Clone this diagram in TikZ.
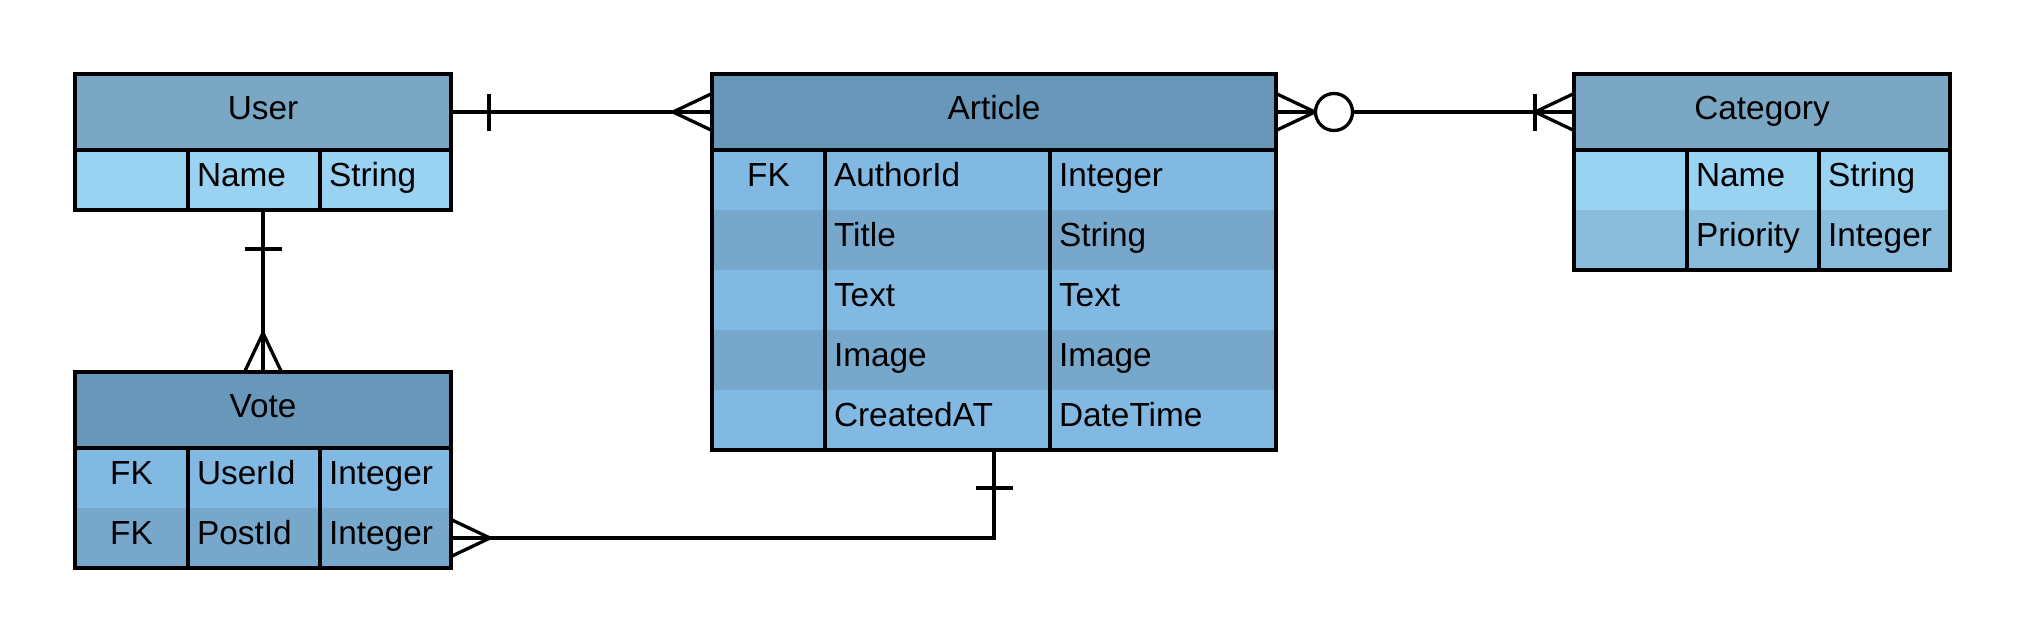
\documentclass[tikz,border=0pt]{standalone}
\usepackage{fontspec}
\setmainfont{Liberation Sans}
\usepackage{xcolor}
\usetikzlibrary{positioning}

\definecolor{hdrlight}{HTML}{7AA8C4}
\definecolor{hdrdark}{HTML}{6997B9}
\definecolor{rowsky}{HTML}{9AD2F2}
\definecolor{rowmid}{HTML}{8ABCDC}
\definecolor{rowA}{HTML}{82B9E3}
\definecolor{rowB}{HTML}{77A8CC}

\begin{document}
\begin{tikzpicture}[
    x=0.1mm, y=-0.1mm,
    every node/.style={inner sep=0pt, outer sep=0pt, font=\fontsize{9.5}{11}\selectfont},
    hdr/.style={minimum width=#1, minimum height=7.6mm, text height=2.4mm,
                text depth=1.0mm, anchor=north west},
    cellbox/.style={minimum height=6mm, text height=2.2mm, text depth=1.0mm},
    keycell/.style={cellbox, minimum width=11.3mm, anchor=north west},
    fld/.style={cellbox, text width=#1, inner xsep=0.9mm, align=left},
    tblframe/.style={draw, line width=0.4mm},
    rel/.style={draw, line width=0.33mm},
    node distance=0pt
  ]
    \useasboundingbox (0,0) rectangle (2025,643);

    % User
    \node[hdr=37.6mm, fill=hdrlight] (user) at (75,74) {User};
    \node[keycell, fill=rowsky] (user-k1) at (75,150) {};
    \node[fld=11.4mm, fill=rowsky, right=of user-k1] (user-n1) {Name};
    \node[fld=11.3mm, fill=rowsky, right=of user-n1] (user-t1) {String};
    \draw[tblframe] (user.north west) rectangle (user-t1.south east);
    \draw[tblframe] (user.south west) -- (user.south east)
        (user-n1.north west) -- (user-n1.south west)
        (user-t1.north west) -- (user-t1.south west);

    % Vote
    \node[hdr=37.6mm, fill=hdrdark] (vote) at (75,372) {Vote};
    \foreach \k/\n/\t/\c [count=\i] in {FK/UserId/Integer/rowA, FK/PostId/Integer/rowB} {
      \node[keycell, fill=\c] (vote-k\i) at (75,{388+60*\i}) {\k};
      \node[fld=11.4mm, fill=\c, right=of vote-k\i] (vote-n\i) {\n};
      \node[fld=11.3mm, fill=\c, right=of vote-n\i] (vote-t\i) {\t};
    }
    \draw[tblframe] (vote.north west) rectangle (vote-t2.south east);
    \draw[tblframe] (vote.south west) -- (vote.south east)
        (vote-n1.north west) -- (vote-n2.south west)
        (vote-t1.north west) -- (vote-t2.south west);

    % Article
    \node[hdr=56.4mm, fill=hdrdark] (article) at (712,74) {Article};
    \foreach \k/\n/\t/\c [count=\i] in {FK/AuthorId/Integer/rowA, {}/Title/String/rowB,
        {}/Text/Text/rowA, {}/Image/Image/rowB, {}/CreatedAT/DateTime/rowA} {
      \node[keycell, fill=\c] (article-k\i) at (712,{90+60*\i}) {\k};
      \node[fld=20.7mm, fill=\c, right=of article-k\i] (article-n\i) {\n};
      \node[fld=20.8mm, fill=\c, right=of article-n\i] (article-t\i) {\t};
    }
    \draw[tblframe] (article.north west) rectangle (article-t5.south east);
    \draw[tblframe] (article.south west) -- (article.south east)
        (article-n1.north west) -- (article-n5.south west)
        (article-t1.north west) -- (article-t5.south west);

    % Category
    \node[hdr=37.6mm, fill=hdrlight] (category) at (1574,74) {Category};
    \foreach \k/\n/\t/\c [count=\i] in {{}/Name/String/rowsky, {}/Priority/Integer/rowmid} {
      \node[keycell, fill=\c] (category-k\i) at (1574,{90+60*\i}) {\k};
      \node[fld=11.4mm, fill=\c, right=of category-k\i] (category-n\i) {\n};
      \node[fld=11.3mm, fill=\c, right=of category-n\i] (category-t\i) {\t};
    }
    \draw[tblframe] (category.north west) rectangle (category-t2.south east);
    \draw[tblframe] (category.south west) -- (category.south east)
        (category-n1.north west) -- (category-n2.south west)
        (category-t1.north west) -- (category-t2.south west);

    \coordinate (user-s) at (user-n1.south -| user);
    \coordinate (article-s) at (article-n5.south -| article);

    % User -- Article
    \draw[rel] (user.east) -- (article.west);
    \draw[rel] ([xshift=3.8mm,yshift=1.85mm]user.east) -- ([xshift=3.8mm,yshift=-1.85mm]user.east);
    \draw[rel] ([yshift=1.85mm]article.west) -- ([xshift=-3.9mm]article.west) -- ([yshift=-1.85mm]article.west);

    % Article -- Category
    \draw[rel] (article.east) -- (category.west);
    \draw[rel] ([yshift=1.85mm]article.east) -- ([xshift=3.9mm]article.east) -- ([yshift=-1.85mm]article.east);
    \draw[rel, fill=white] ([xshift=5.8mm]article.east) circle (1.85mm);
    \draw[rel] ([xshift=-3.9mm,yshift=1.85mm]category.west) -- ([xshift=-3.9mm,yshift=-1.85mm]category.west);
    \draw[rel] ([yshift=1.85mm]category.west) -- ([xshift=-3.9mm]category.west) -- ([yshift=-1.85mm]category.west);

    % User -- Vote
    \draw[rel] (user-s) -- (vote.north);
    \draw[rel] ([xshift=-1.85mm,yshift=-3.9mm]user-s) -- ([xshift=1.85mm,yshift=-3.9mm]user-s);
    \draw[rel] ([xshift=-1.85mm]vote.north) -- ([yshift=3.9mm]vote.north) -- ([xshift=1.85mm]vote.north);

    % Vote -- Article
    \draw[rel] (vote-t2.east) -| (article-s);
    \draw[rel] ([yshift=1.85mm]vote-t2.east) -- ([xshift=3.9mm]vote-t2.east) -- ([yshift=-1.85mm]vote-t2.east);
    \draw[rel] ([xshift=-1.85mm,yshift=-3.8mm]article-s) -- ([xshift=1.85mm,yshift=-3.8mm]article-s);
\end{tikzpicture}
\end{document}
